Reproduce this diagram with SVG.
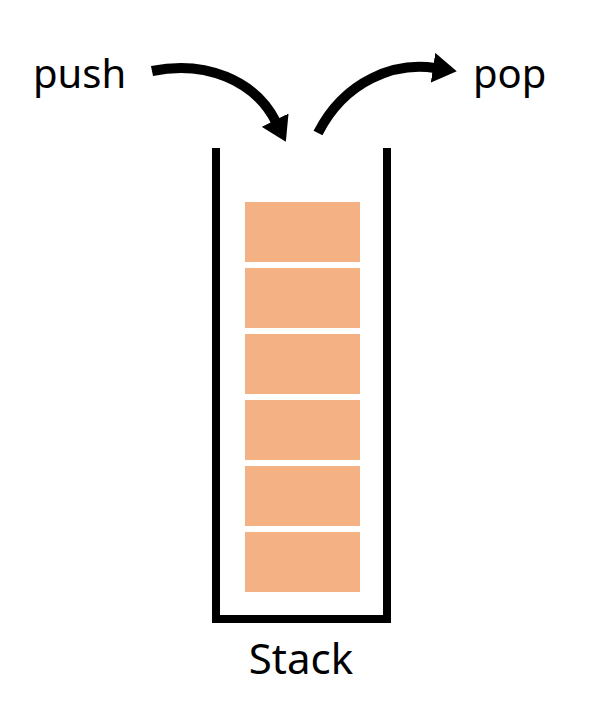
<svg xmlns="http://www.w3.org/2000/svg" width="596" height="712" viewBox="0 0 596 712">
<style>
.lbl{font-family:"Noto Sans","DejaVu Sans",sans-serif;font-size:42px;fill:#000}
.side{font-size:40px}
.item{fill:#F4B183}
.arrow{fill:none;stroke:#000;stroke-width:10}
</style>
<defs>
<marker id="ah" markerUnits="userSpaceOnUse" viewBox="0 0 24 30" refX="2" refY="15" markerWidth="24" markerHeight="30" orient="auto">
<path d="M0,0 L24,15 L0,30 z" fill="#000"/>
</marker>
</defs>
<rect width="596" height="712" fill="#fff"/>
<g id="stack">
<path d="M216,148 V619 H387 V148" fill="none" stroke="#000" stroke-width="8"/>
<rect class="item" x="245" y="202" width="115" height="60"/>
<rect class="item" x="245" y="268" width="115" height="60"/>
<rect class="item" x="245" y="334" width="115" height="60"/>
<rect class="item" x="245" y="400" width="115" height="60"/>
<rect class="item" x="245" y="466" width="115" height="60"/>
<rect class="item" x="245" y="532" width="115" height="60"/>
<text class="lbl" x="301" y="674" text-anchor="middle">Stack</text>
</g>
<g id="push-label"><text class="lbl side" x="33" y="88">push</text></g>
<g id="pop-label"><text class="lbl side" x="473" y="88">pop</text></g>
<g id="connectors">
<path class="arrow" d="M152,71 C205,60 255,80 276,122" marker-end="url(#ah)"/>
<path class="arrow" d="M318,133 C345,80 395,62 435,68" marker-end="url(#ah)"/>
</g>
</svg>
